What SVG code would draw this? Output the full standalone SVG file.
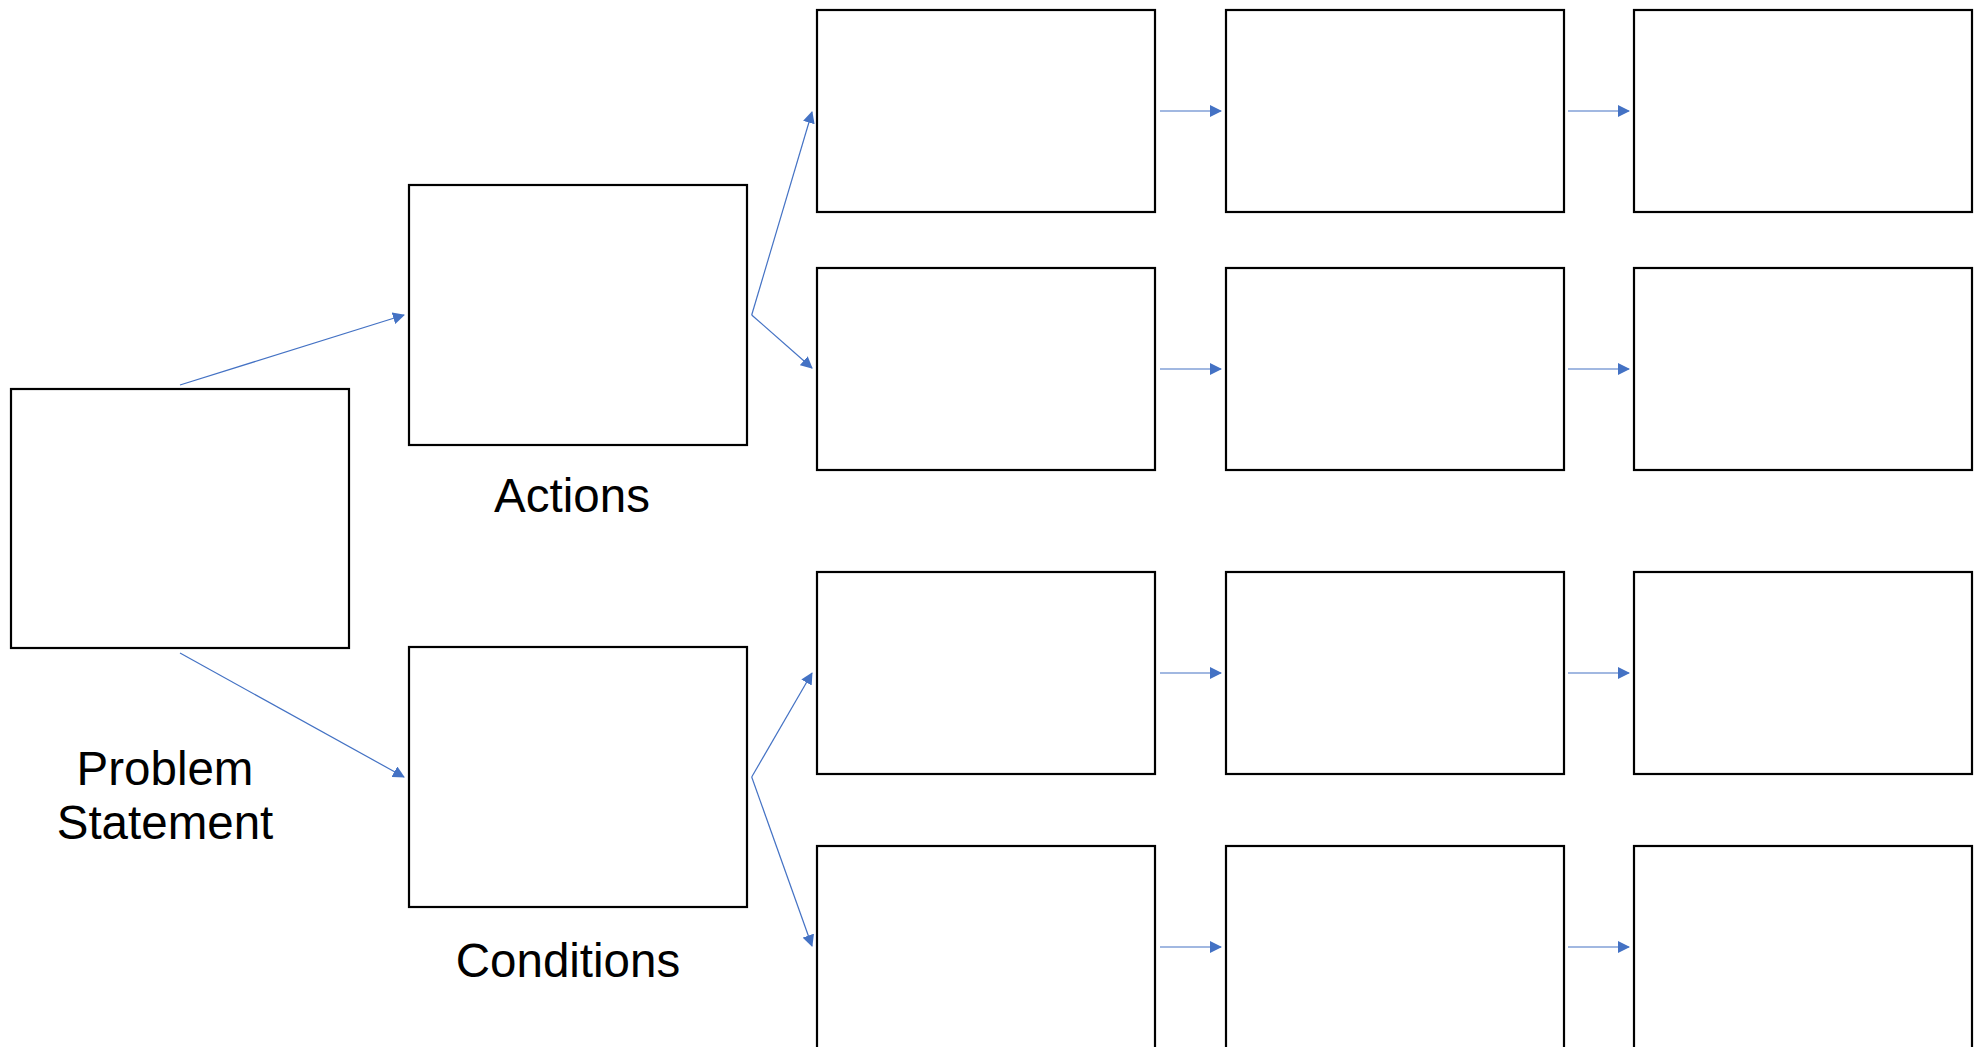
<svg xmlns="http://www.w3.org/2000/svg" width="1977" height="1047" viewBox="0 0 1977 1047">
  <style>
    .box { fill: #ffffff; stroke: #000000; stroke-width: 2.2; }
    .conn { fill: none; stroke: #4472C4; stroke-width: 1.2; }
    .lbl { font-family: "Liberation Sans", Arial, sans-serif; font-size: 47.5px; fill: #000000; text-anchor: middle; }
  </style>
  <defs>
    <marker id="arr" viewBox="0 0 12 12" refX="11" refY="6" markerWidth="12" markerHeight="12" markerUnits="userSpaceOnUse" orient="auto">
      <path d="M0,0 L12,6 L0,12 Z" fill="#4472C4"/>
    </marker>
  </defs>
  <rect x="0" y="0" width="1977" height="1047" fill="#ffffff"/>

  <g id="connectors">
    <line class="conn" x1="180" y1="385" x2="404" y2="315" marker-end="url(#arr)"/>
    <line class="conn" x1="180" y1="653" x2="404" y2="777" marker-end="url(#arr)"/>
    <line class="conn" x1="751.7" y1="315" x2="812" y2="112" marker-end="url(#arr)"/>
    <line class="conn" x1="751.7" y1="315" x2="812" y2="368" marker-end="url(#arr)"/>
    <line class="conn" x1="751.7" y1="777" x2="812" y2="673" marker-end="url(#arr)"/>
    <line class="conn" x1="751.7" y1="777" x2="812" y2="946" marker-end="url(#arr)"/>
    <line class="conn" x1="1160" y1="111" x2="1221" y2="111" marker-end="url(#arr)"/>
    <line class="conn" x1="1568" y1="111" x2="1629" y2="111" marker-end="url(#arr)"/>
    <line class="conn" x1="1160" y1="369" x2="1221" y2="369" marker-end="url(#arr)"/>
    <line class="conn" x1="1568" y1="369" x2="1629" y2="369" marker-end="url(#arr)"/>
    <line class="conn" x1="1160" y1="673" x2="1221" y2="673" marker-end="url(#arr)"/>
    <line class="conn" x1="1568" y1="673" x2="1629" y2="673" marker-end="url(#arr)"/>
    <line class="conn" x1="1160" y1="947" x2="1221" y2="947" marker-end="url(#arr)"/>
    <line class="conn" x1="1568" y1="947" x2="1629" y2="947" marker-end="url(#arr)"/>
  </g>

  <g id="problem">
    <rect class="box" x="11" y="389" width="338" height="259"/>
    <text class="lbl" x="165" y="785">Problem</text>
    <text class="lbl" x="165" y="839">Statement</text>
  </g>
  <g id="actions">
    <rect class="box" x="409" y="185" width="338" height="260"/>
    <text class="lbl" x="572" y="512">Actions</text>
  </g>
  <g id="conditions">
    <rect class="box" x="409" y="647" width="338" height="260"/>
    <text class="lbl" x="568" y="977">Conditions</text>
  </g>

  <g id="r1c1"><rect class="box" x="817" y="10" width="338" height="202"/></g>
  <g id="r1c2"><rect class="box" x="1226" y="10" width="338" height="202"/></g>
  <g id="r1c3"><rect class="box" x="1634" y="10" width="338" height="202"/></g>
  <g id="r2c1"><rect class="box" x="817" y="268" width="338" height="202"/></g>
  <g id="r2c2"><rect class="box" x="1226" y="268" width="338" height="202"/></g>
  <g id="r2c3"><rect class="box" x="1634" y="268" width="338" height="202"/></g>
  <g id="r3c1"><rect class="box" x="817" y="572" width="338" height="202"/></g>
  <g id="r3c2"><rect class="box" x="1226" y="572" width="338" height="202"/></g>
  <g id="r3c3"><rect class="box" x="1634" y="572" width="338" height="202"/></g>
  <g id="r4c1"><rect class="box" x="817" y="846" width="338" height="203"/></g>
  <g id="r4c2"><rect class="box" x="1226" y="846" width="338" height="203"/></g>
  <g id="r4c3"><rect class="box" x="1634" y="846" width="338" height="203"/></g>
</svg>
